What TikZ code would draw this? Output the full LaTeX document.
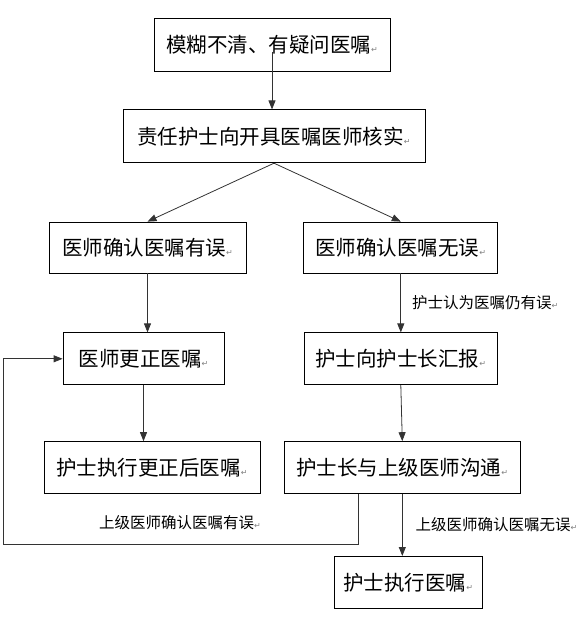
\documentclass[tikz,border=0pt]{standalone}
\usepackage{fontspec}
\newfontfamily\cjk{Noto Sans CJK SC}
\newfontfamily\symfont{DejaVu Sans}
\usetikzlibrary{positioning,arrows.meta,calc}
\newcommand{\parmark}{{\symfont\fontsize{8}{8}\selectfont\textcolor{gray}{↵}}}
\tikzset{
  flow/.style={x=1pt,y=1pt,>={Triangle[length=9pt,width=7pt]},node distance=56pt},
  stepbox/.style={draw=black,line width=0.8pt,minimum height=52pt,inner sep=2pt,
    font=\cjk\fontsize{20.5}{22}\selectfont},
  note/.style={font=\cjk\fontsize{15.5}{17}\selectfont,inner sep=0pt},
  link/.style={->,draw=black!80,line width=0.8pt},
}
\begin{document}
\begin{tikzpicture}[flow]
  \useasboundingbox (0,0) rectangle (579,-620);
  % left branch and top
  \node[stepbox,minimum width=236pt,minimum height=53pt] (query) at (272,-44.5) {模糊不清、有疑问医嘱\parmark};
  \node[stepbox,minimum width=302pt,minimum height=53pt] (verify) [below=38pt of query,xshift=2pt] {责任护士向开具医嘱医师核实\parmark};
  \node[stepbox,minimum width=197pt,minimum height=51pt] (wrong) at (147.5,-247.5) {医师确认医嘱有误\parmark};
  \node[stepbox,minimum width=194pt,minimum height=51pt] (right) [right=57pt of wrong] {医师确认医嘱无误\parmark};
  \node[stepbox,minimum width=161pt] (correct) [below=59pt of wrong,xshift=-4pt] {医师更正医嘱\parmark};
  \node[stepbox,minimum width=216pt] (docorr) [below=56pt of correct,xshift=8.5pt] {护士执行更正后医嘱\parmark};
  % right branch
  \node[stepbox,minimum width=193pt] (report) [below=59pt of right] {护士向护士长汇报\parmark};
  \node[stepbox,minimum width=236pt] (talk) [below=56pt of report,xshift=1.5pt] {护士长与上级医师沟通\parmark};
  \node[stepbox,minimum width=148pt] (execute) [below=62pt of talk,xshift=6pt] {护士执行医嘱\parmark};

  \draw[link] ([yshift=-7.5pt]query.center) -- (query.center |- verify.north);
  \draw[link] (verify.south) -- (wrong.north);
  \draw[link] (verify.south) -- (right.north);
  \draw[link] (wrong.south) -- (wrong.south |- correct.north);
  \draw[link] (correct.south) -- (correct.south |- docorr.north);
  \draw[link] (right.south) -- node[note,right=11pt] (still) {护士认为医嘱仍有误\parmark} (report.north);
  \draw[link] (report.south) -- (talk.north);
  \draw[link] (talk.south) -- node[note,right=13pt] (ok) {上级医师确认医嘱无误\parmark} (talk.south |- execute.north);

  % back to the doctor
  \coordinate (fbtop) at ([xshift=-44pt]talk.south);
  \coordinate (fbcorner) at (3,-544);
  \draw[link] (fbtop) |- (fbcorner) |- (correct.west);
  \node[note] (bad) at (180,-523) {上级医师确认医嘱有误\parmark};
\end{tikzpicture}
\end{document}
